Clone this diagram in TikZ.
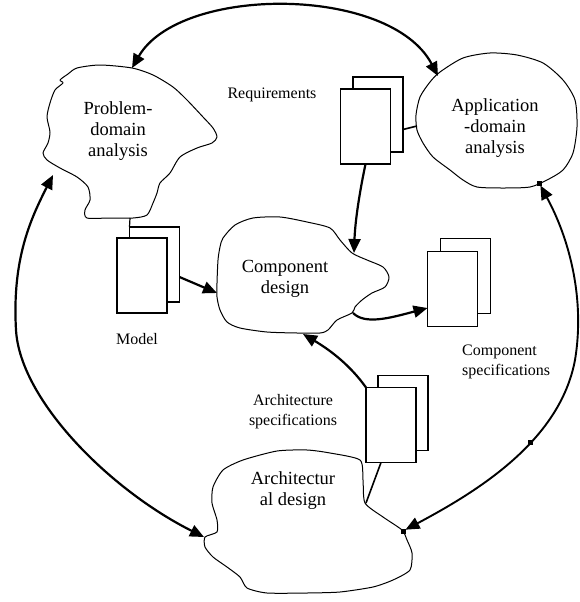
\documentclass[tikz,border=0pt]{standalone}
\usepackage{fontspec}
\setmainfont{Liberation Serif}
\usetikzlibrary{arrows.meta}
\begin{document}
\begin{tikzpicture}[x=1pt,y=-1pt,
  cloud/.style={draw, line width=1pt, line join=round},
  page/.style={draw, line width=1.15pt, fill=white, minimum width=50pt, minimum height=75pt, inner sep=0pt, outer sep=0pt},
  flow/.style={line width=2.2pt, -{Triangle[length=14pt,width=12pt]}},
  biflow/.style={line width=2.2pt, {Triangle[length=14pt,width=12pt]}-{Triangle[length=14pt,width=12pt]}},
  link/.style={line width=1.6pt},
  big/.style={font=\fontsize{18.5}{21}\selectfont, align=center, inner sep=0pt},
  small/.style={font=\fontsize{16}{20}\selectfont, align=center, inner sep=0pt},
  dot/.style={fill=black, minimum size=5pt, inner sep=0pt, outer sep=0pt}
]
\useasboundingbox (0,0) rectangle (579,602);

% --- activity clouds ---
\draw[cloud] plot[smooth cycle, tension=0.45] coordinates {
  (60,80) (68,74) (77,68) (100,65) (132,68) (153,75) (173,87) (187,100)
  (203,117) (213,128) (217,137) (212,143) (197,148) (180,157) (170,173)
  (160,183) (157,193) (153,203) (147,215) (133,218) (110,218) (87,218)
  (85,210) (90,200) (88,187) (77,177) (60,168) (47,160) (43,153) (48,143)
  (50,132) (47,117) (50,103) (55,90) (63,83)};
\draw[cloud] plot[smooth cycle, tension=0.45] coordinates {
  (440,72) (463,58) (490,53) (517,55) (543,63) (563,80) (575,100) (577,127)
  (573,153) (563,170) (547,180) (530,187) (503,188) (477,187) (463,180)
  (450,170) (433,157) (423,143) (417,130) (416,115) (420,97) (430,82)};
\draw[cloud] plot[smooth cycle, tension=0.45] coordinates {
  (223,238) (235,225) (253,218) (280,217) (307,222) (330,228) (340,240)
  (352,253) (367,260) (383,267) (389,277) (385,287) (372,293) (362,300)
  (355,307) (352,313) (337,320) (328,330) (320,333) (297,333) (267,332)
  (240,328) (227,322) (220,310) (217,297) (217,283) (218,260) (220,247)};
\draw[cloud] plot[smooth cycle, tension=0.4] coordinates {
  (205,537) (217,532) (217,520) (212,503) (213,487) (223,470) (243,460)
  (277,451) (307,450) (330,453) (360,460) (363,480) (365,503) (383,517)
  (402,530) (407,540) (412,553) (410,570) (393,580) (373,587) (340,592)
  (307,593) (267,593) (247,588) (240,577) (227,567) (213,557) (205,547)};

% --- cloud labels ---
\node[big] (pd) at (118,131) {Problem-\\domain\\analysis};
\node[big] (ad) at (495,128.5) {Application\\-domain\\analysis};
\node[big] (cd) at (285,279) {Component\\design};
\node[big] (ar) at (293,490.5) {Architectur\\al design};

% --- attachment points on the cloud outlines ---
\coordinate (pd-top) at (132,68);
\coordinate (pd-left) at (53,175);
\coordinate (pd-bot) at (130,218);
\coordinate (ad-top) at (438,76);
\coordinate (ad-left) at (417,126);
\coordinate (cd-top) at (354,253);
\coordinate (cd-left) at (217,293);
\coordinate (cd-right) at (353,313);
\coordinate (cd-bot) at (303,334);
\coordinate (ar-left) at (204,537);
\coordinate (ar-top) at (366,503);
\node[dot] (ad-dot) at (539,183) {};
\node[dot] (ar-dot) at (403,531) {};

% --- documents ---
\node[page] (model-back) at (154.5,264.5) {};
\node[page] (model-front) at (142,275.5) {};
\node[page] (req-back) at (378,114.5) {};
\node[page] (req-front) at (365.5,126.5) {};
\node[page] (cs-back) at (465.5,276) {};
\node[page] (cs-front) at (452.5,289) {};
\node[page] (as-back) at (403,413) {};
\node[page] (as-front) at (391,425) {};

% --- document labels ---
\node[small] (req-lbl) at (272,95) {Requirements};
\node[small] (model-lbl) at (137,339) {Model};
\node[small, align=left, anchor=west] (cs-lbl) at (462,362) {Component\\specifications};
\node[small] (as-lbl) at (293,412) {Architecture\\specifications};

% --- document links ---
\draw[line width=1.2pt] (pd-bot) -- (model-back.north west);
\draw[link] ([yshift=-15pt]req-back.east) -- (ad-left);
\draw[link] ([xshift=-10pt]as-front.south) -- (ar-top);

% --- flows ---
\draw[flow] ([yshift=-12.5pt]model-back.east) -- (cd-left);
\draw[flow] (req-front.south) .. controls (358,200) and (355,225) .. (cd-top);
\draw[flow] (cd-right) .. controls (365,325) and (390,318) .. ([yshift=-19pt]cs-front.west);
\draw[flow] (as-front.north west) .. controls (350,365) and (330,350) .. (cd-bot);

% --- feedback arcs ---
\draw[biflow] (pd-top) .. controls (180,-15) and (390,-15) .. (ad-top);
\draw[biflow] (pd-left) .. controls (30,220) and (12,260) .. (16,330)
  .. controls (20,400) and (110,490) .. (ar-left);
\draw[biflow, line width=1.9pt] (ad-dot) .. controls (570,240) and (585,300) .. (575,360)
  .. controls (560,440) and (480,490) .. (ar-dot) node[dot, pos=0.4] (arc-dot) {};
\end{tikzpicture}
\end{document}
